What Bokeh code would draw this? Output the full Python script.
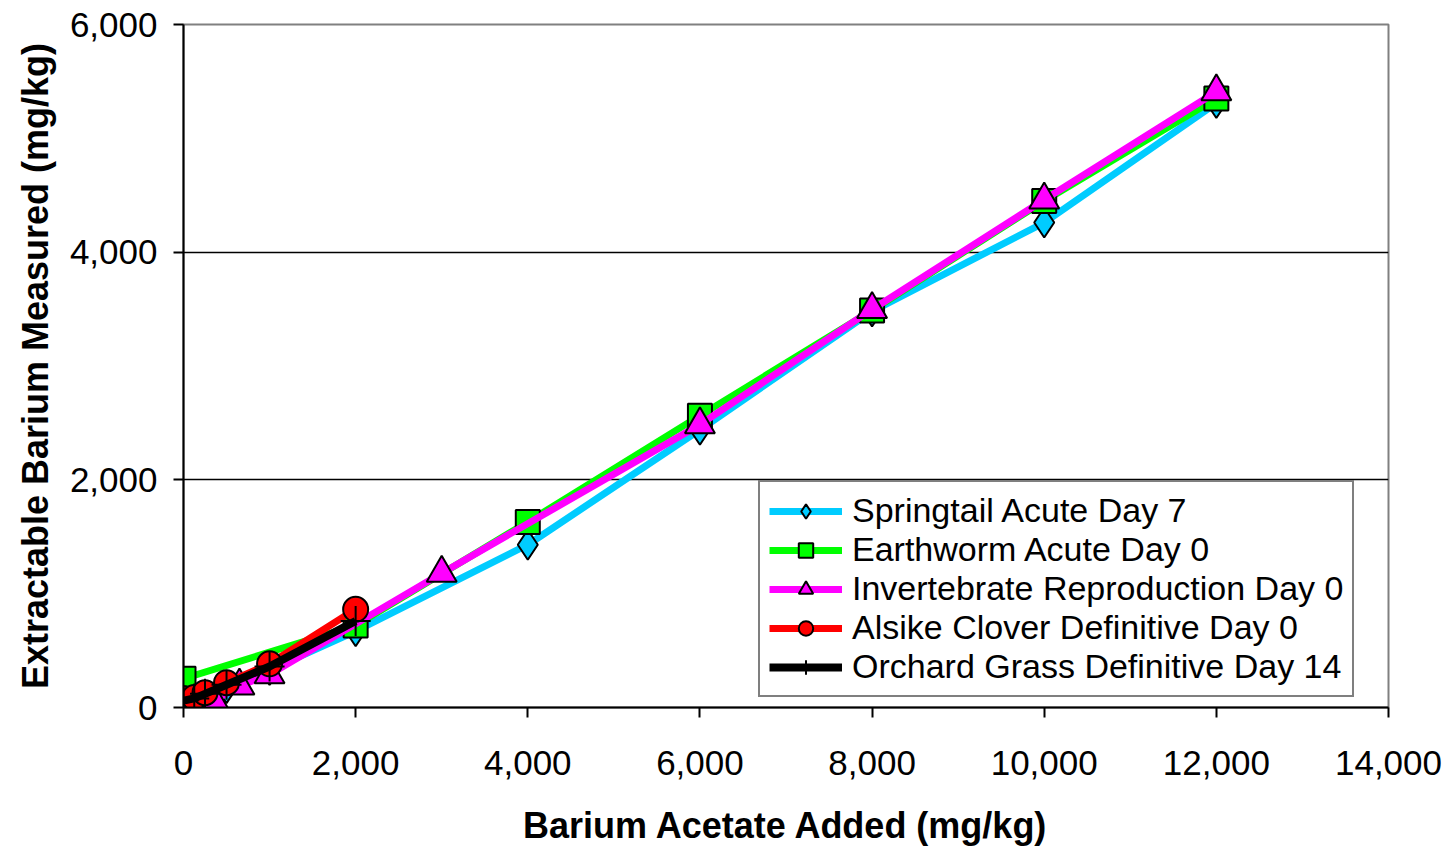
from bokeh.plotting import figure
from bokeh.models import (Range1d, NumeralTickFormatter, FixedTicker, Legend, LegendItem)
from bokeh.embed import file_html
from bokeh.resources import INLINE

# ---- data ----
springtail_x = [0, 125, 250, 500, 1000, 2000, 4000, 6000, 8000, 10000, 12000]
springtail_y = [40, 60, 100, 170, 330, 670, 1430, 2440, 3480, 4260, 5310]

earthworm_x = [0, 2000, 4000, 6000, 8000, 10000, 12000]
earthworm_y = [253, 720, 1630, 2564, 3488, 4450, 5350]

invert_x = [0, 150, 350, 650, 1000, 3000, 6000, 8000, 10000, 12000]
invert_y = [20, 40, 60, 190, 290, 1180, 2485, 3497, 4460, 5410]

alsike_x = [0, 125, 250, 500, 1000, 2000]
alsike_y = [78, 87, 130, 218, 384, 863]

orchard_x = [0, 125, 250, 500, 1000, 2000]
orchard_y = [60, 80, 120, 200, 360, 760]

labels = ["Springtail Acute Day 7", "Earthworm Acute Day 0",
          "Invertebrate Reproduction Day 0", "Alsike Clover Definitive Day 0",
          "Orchard Grass Definitive Day 14"]

x_ticks = [0, 2000, 4000, 6000, 8000, 10000, 12000, 14000]
y_ticks = [0, 2000, 4000, 6000]

FONT = "Liberation Sans"

p = figure(width=1451, height=848, output_backend="svg", toolbar_location=None,
           x_range=Range1d(0, 14000), y_range=Range1d(0, 6000),
           min_border_left=183, min_border_top=24, min_border_right=63,
           min_border_bottom=136)

p.outline_line_color = "#808080"
p.outline_line_width = 2
p.background_fill_color = "white"
p.border_fill_color = "white"

p.xgrid.visible = False
p.ygrid.grid_line_color = "black"
p.ygrid.grid_line_width = 1.5
p.ygrid.ticker = FixedTicker(ticks=y_ticks)

for ax, ticks in ((p.xaxis[0], x_ticks), (p.yaxis[0], y_ticks)):
    ax.ticker = FixedTicker(ticks=ticks)
    ax.formatter = NumeralTickFormatter(format="0,0")
    ax.axis_line_color = "black"
    ax.axis_line_width = 2
    ax.major_tick_line_color = "black"
    ax.major_tick_line_width = 2
    ax.major_tick_out = 10
    ax.major_tick_in = 0
    ax.minor_tick_out = 0
    ax.minor_tick_in = 0
    ax.major_label_text_font = FONT
    ax.major_label_text_font_size = "35px"
    ax.major_label_text_color = "black"
    ax.axis_label_text_font = FONT
    ax.axis_label_text_font_size = "36px"
    ax.axis_label_text_font_style = "bold"
    ax.axis_label_text_color = "black"

p.xaxis.axis_label = "Barium Acetate Added (mg/kg)"
p.yaxis.axis_label = "Extractable Barium Measured (mg/kg)"
p.xaxis.major_label_standoff = 33
p.yaxis.major_label_standoff = 16
p.xaxis.axis_label_standoff = 27
p.yaxis.axis_label_standoff = 11

items = []

# Springtail (cyan diamonds)
l1 = p.line(springtail_x, springtail_y, line_color="#00CCFF", line_width=7)
s1 = p.scatter(springtail_x, springtail_y, marker="diamond", size=30,
               fill_color="#00CCFF", line_color="black", line_width=2)
items.append(LegendItem(label=labels[0], renderers=[l1, s1]))

# Earthworm (green squares)
l2 = p.line(earthworm_x, earthworm_y, line_color="#00FF00", line_width=7)
s2 = p.scatter(earthworm_x, earthworm_y, marker="square", size=24,
               fill_color="#00FF00", line_color="black", line_width=2)
items.append(LegendItem(label=labels[1], renderers=[l2, s2]))

# Invertebrate reproduction (magenta triangles)
l3 = p.line(invert_x, invert_y, line_color="#FF00FF", line_width=7)
s3 = p.scatter(invert_x, invert_y, marker="triangle", size=30,
               fill_color="#FF00FF", line_color="black", line_width=2)
items.append(LegendItem(label=labels[2], renderers=[l3, s3]))

# Alsike clover (red circles)
l4 = p.line(alsike_x, alsike_y, line_color="#FF0000", line_width=7)
s4 = p.scatter(alsike_x, alsike_y, marker="circle", size=25,
               fill_color="#FF0000", line_color="black", line_width=2)
items.append(LegendItem(label=labels[3], renderers=[l4, s4]))

# Orchard grass (black crosses)
l5 = p.line(orchard_x, orchard_y, line_color="black", line_width=8)
s5 = p.scatter(orchard_x, orchard_y, marker="cross", size=30,
               line_color="black", line_width=2)
items.append(LegendItem(label=labels[4], renderers=[l5, s5]))

legend = Legend(items=items, location=(575, 10))
legend.label_text_font = FONT
legend.label_text_font_size = "34px"
legend.label_text_color = "black"
legend.glyph_width = 73
legend.glyph_height = 36
legend.label_height = 36
legend.label_standoff = 10
legend.spacing = 0
legend.padding = 9
legend.margin = 0
legend.border_line_color = "black"
legend.border_line_width = 2
legend.background_fill_color = "white"
legend.background_fill_alpha = 1.0
p.add_layout(legend, "center")

open("out.html", "w").write(file_html(p, INLINE))
